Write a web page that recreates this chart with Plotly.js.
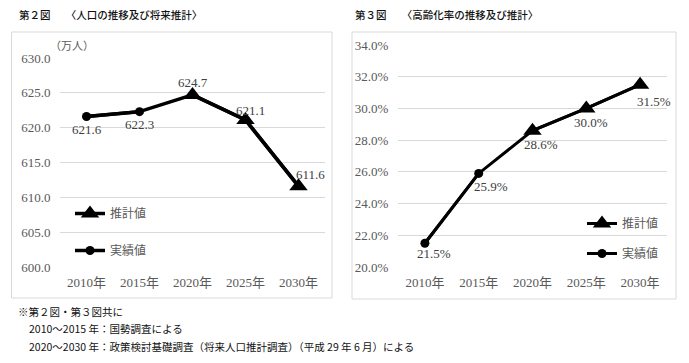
<!DOCTYPE html>
<html><head><meta charset="utf-8">
<script src="https://cdn.plot.ly/plotly-3.0.1.min.js"></script>
<style>html,body{margin:0;padding:0;background:#fff}#chart{width:689px;height:363px}</style>
</head><body><div id="chart"></div>
<script>
// ---- data ----
const years = ['2010年', '2015年', '2020年', '2025年', '2030年'];
const popActual = [621.6, 622.3, null, null, null];
const popEstimate = [null, null, 624.7, 621.1, 611.6];
const agingActual = [21.5, 25.9, null, null, null];
const agingEstimate = [null, null, 28.6, 30.0, 31.5];
const popTicks = [600, 605, 610, 615, 620, 625, 630];
const agingTicks = [20, 22, 24, 26, 28, 30, 32, 34];
const nameEstimate = '推計値';
const nameActual = '実績値';

// ---- styles ----
const W = 689, H = 363;
const px = v => v / W, py = v => 1 - v / H;
const serif = 'Liberation Serif, Noto Sans CJK JP, serif';
const gothic = 'Noto Sans CJK JP, sans-serif';
const tickColor = '#595959';
const labelColor = '#404040';
// label offsets (pixels) per point
const popOffsets = [[0,-13],[0,-13],[0,12],[5,10],[12,12]];
const agingOffsets = [[9,-10],[12,-13],[8,-14],[5,-14],[14,-17]];

function combined(a, e) { return a.map((v, i) => v != null ? v : e[i]); }

function traces(actual, estimate, xa, ya, legendId, lw, triSize, circSize) {
  const all = combined(actual, estimate);
  return [
    {x: years, y: all, xaxis: xa, yaxis: ya, mode: 'lines', line: {color: '#000', width: lw},
     showlegend: false, hoverinfo: 'skip'},
    {x: years, y: estimate, xaxis: xa, yaxis: ya, mode: 'lines+markers', name: nameEstimate,
     line: {color: '#000', width: lw}, marker: {symbol: 'triangle-up', size: triSize, color: '#000'},
     legend: legendId, legendgroup: 'e' + legendId},
    {x: years, y: actual, xaxis: xa, yaxis: ya, mode: 'lines+markers', name: nameActual,
     line: {color: '#000', width: lw}, marker: {symbol: 'circle', size: circSize, color: '#000'},
     legend: legendId, legendgroup: 'a' + legendId}
  ];
}

function labels(actual, estimate, xa, ya, fmt, offs) {
  const all = combined(actual, estimate);
  return all.map((v, i) => ({
    x: years[i], y: v, xref: xa, yref: ya, text: fmt(v), showarrow: false,
    xshift: offs[i][0], yshift: offs[i][1],
    font: {family: serif, size: 13, color: labelColor}
  }));
}

const data = [
  ...traces(popActual, popEstimate, 'x', 'y', 'legend', 3.5, 16, 9),
  ...traces(agingActual, agingEstimate, 'x2', 'y2', 'legend2', 3, 16, 9)
];

const axisX = {type: 'category', range: [-0.5, 4.5], showgrid: false, zeroline: false, showline: false,
  ticks: 'outside', ticklen: 3, tickcolor: 'rgba(0,0,0,0)',
  tickfont: {family: serif, size: 13, color: tickColor}};
const axisY = {showgrid: true, gridcolor: '#d9d9d9', gridwidth: 1, zeroline: false, showline: false,
  ticks: 'outside', ticklen: 6, tickcolor: 'rgba(0,0,0,0)',
  tickfont: {family: serif, size: 13, color: tickColor}};

const note = (text, x, y, size, weight) => ({
  text, x: px(x), y: py(y), xref: 'paper', yref: 'paper', xanchor: 'left', yanchor: 'middle',
  showarrow: false, font: {family: gothic, size: size, color: '#111', weight: weight || 400}
});

const layout = {
  width: W, height: H, margin: {l: 0, r: 0, t: 0, b: 0},
  paper_bgcolor: '#fff', plot_bgcolor: '#fff', showlegend: true,
  xaxis: Object.assign({}, axisX, {domain: [px(60), px(325)], anchor: 'y'}),
  yaxis: Object.assign({}, axisY, {domain: [py(267), py(58)], range: [600, 630], tickvals: popTicks,
    ticktext: popTicks.map(v => v.toFixed(1)), anchor: 'x'}),
  xaxis2: Object.assign({}, axisX, {domain: [px(398), px(667)], anchor: 'y2'}),
  yaxis2: Object.assign({}, axisY, {domain: [py(267), py(45)], range: [20, 34], tickvals: agingTicks,
    ticktext: agingTicks.map(v => v.toFixed(1) + '%'), anchor: 'x2'}),
  legend: {x: px(70), y: py(199), xanchor: 'left', yanchor: 'top', bgcolor: 'rgba(0,0,0,0)',
    font: {family: gothic, size: 12, color: tickColor}, tracegroupgap: 18, itemwidth: 30},
  legend2: {x: px(582), y: py(209), xanchor: 'left', yanchor: 'top', bgcolor: 'rgba(0,0,0,0)',
    font: {family: gothic, size: 12, color: tickColor}, tracegroupgap: 11, itemwidth: 30},
  shapes: [
    {type: 'rect', xref: 'paper', yref: 'paper', x0: px(11.5), x1: px(332), y0: py(298), y1: py(32),
     line: {color: '#d9d9d9', width: 1}},
    {type: 'rect', xref: 'paper', yref: 'paper', x0: px(352), x1: px(676), y0: py(299), y1: py(32),
     line: {color: '#d9d9d9', width: 1}}
  ],
  annotations: [
    note('第２図\u3000\u00a0\u00a0〈人口の推移及び将来推計〉', 17, 15, 10.5, 500),
    note('第３図\u3000\u00a0\u00a0〈高齢化率の推移及び推計〉', 353, 15, 10.5, 500),
    note('※第２図・第３図共に', 16, 311, 10.5),
    note('2010～2015 年：国勢調査による', 27, 328, 10.5),
    note('2020～2030 年：政策検討基礎調査（将来人口推計調査）（平成 29 年 6 月）による', 27, 346, 10.5),
    {text: '（万人）', x: px(48), y: py(45), xref: 'paper', yref: 'paper', xanchor: 'left', yanchor: 'middle',
     showarrow: false, font: {family: gothic, size: 11, color: tickColor}},
    ...labels(popActual, popEstimate, 'x', 'y', v => v.toFixed(1), popOffsets),
    ...labels(agingActual, agingEstimate, 'x2', 'y2', v => v.toFixed(1) + '%', agingOffsets)
  ]
};

Plotly.newPlot('chart', data, layout, {staticPlot: true});
</script></body></html>
